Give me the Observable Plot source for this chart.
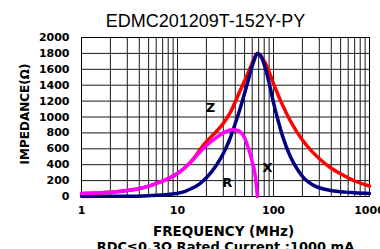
<!DOCTYPE html>
<html>
<head>
<meta charset="utf-8">
<script src="https://cdn.jsdelivr.net/npm/d3@7"></script>
<script src="https://cdn.jsdelivr.net/npm/@observablehq/plot@0.6"></script>
<style>
  html, body { margin: 0; padding: 0; background: #fff; overflow: hidden; }
</style>
</head>
<body>
<div id="chart"></div>
<script>
const title = "EDMC201209T-152Y-PY";
const xLabel = "FREQUENCY (MHz)";
const yLabel = "IMPEDANCE(Ω)";
const caption = "RDC≤0.3Ω Rated Current :1000 mA";

const xTicks = [1, 10, 100, 1000];
const yTicks = [0, 200, 400, 600, 800, 1000, 1200, 1400, 1600, 1800, 2000];
const xGrid = [1,2,3,4,5,6,7,8,9,10,20,30,40,50,60,70,80,90,100,200,300,400,500,600,700,800,900,1000];

// Z (red)
const zFreq = [1, 2, 3, 4, 5, 6, 8, 10, 12, 15, 17.4, 20, 26, 30, 35.6, 45, 52, 57.6, 63, 68, 75, 86, 100, 120, 150, 200, 250, 300, 400, 500, 700, 1000];
const zValues = [38, 52, 75, 100, 130, 165, 225, 290, 365, 490, 600, 690, 830, 920, 1060, 1333, 1500, 1626, 1740, 1800, 1760, 1626, 1420, 1190, 950, 710, 570, 475, 355, 285, 195, 132];

// navy curve
const rFreq = [1, 3, 5, 8, 10, 12, 14, 17, 20, 25, 30, 35, 40, 45, 52, 58, 63, 68, 75, 82, 90, 100, 112, 125, 150, 180, 210, 250, 300, 400, 550, 700, 1000];
const rValues = [3, 3, 10, 25, 40, 65, 100, 160, 235, 380, 540, 720, 920, 1110, 1370, 1580, 1720, 1800, 1750, 1620, 1430, 1180, 950, 750, 500, 330, 225, 155, 110, 75, 55, 46, 38];

// magenta curve
const xFreq = [1, 2, 3, 4, 5, 6, 8, 10, 12, 15, 17.4, 20, 26, 30, 37, 42, 45, 50, 55, 60, 65, 68];
const xValues = [38, 52, 75, 100, 130, 165, 225, 290, 365, 480, 570, 640, 750, 800, 840, 835, 815, 740, 600, 440, 240, 0];

const curveLabels = ["Z", "R", "X"];
const curveLabelFreq = [22, 33, 86.6];
const curveLabelValue = [1120, 176, 365];

const zData = zFreq.map((f, i) => ({f, v: zValues[i]}));
const rData = rFreq.map((f, i) => ({f, v: rValues[i]}));
const xData = xFreq.map((f, i) => ({f, v: xValues[i]}));
const labelData = curveLabels.map((t, i) => ({t, f: curveLabelFreq[i], v: curveLabelValue[i]}));

const chart = Plot.plot({
  width: 380,
  height: 249,
  marginLeft: 81,
  marginRight: 11,
  marginTop: 37,
  marginBottom: 53,
  style: {fontFamily: "DejaVu Sans", fontWeight: "bold", fontSize: "11px", background: "white", color: "black"},
  x: {type: "log", domain: [1, 1000], ticks: xTicks, tickFormat: d => String(d), tickSize: 0, tickPadding: 10, label: null},
  y: {domain: [0, 2000], ticks: yTicks, tickFormat: d => String(d), tickSize: 0, tickPadding: 12, label: null},
  marks: [
    Plot.ruleX(xGrid, {stroke: "#1a1a1a", strokeWidth: 1}),
    Plot.ruleY(yTicks, {stroke: "#1a1a1a", strokeWidth: 1}),
    Plot.frame({stroke: "black"}),
    Plot.line(zData, {x: "f", y: "v", stroke: "#ff0000", strokeWidth: 3.5, curve: "monotone-x"}),
    Plot.line(rData, {x: "f", y: "v", stroke: "#000080", strokeWidth: 3.5, curve: "monotone-x"}),
    Plot.line(xData, {x: "f", y: "v", stroke: "#ff00ff", strokeWidth: 3.5, curve: "monotone-x"}),
    Plot.text(labelData, {x: "f", y: "v", text: "t", fontSize: 13, fontWeight: "bold", fill: "black"}),
    Plot.text([title], {frameAnchor: "top", text: d => d, dx: -20, dy: -11, lineAnchor: "bottom", fontSize: 18, fontWeight: "normal", fontFamily: "Liberation Sans", fill: "black"}),
    Plot.text([xLabel], {frameAnchor: "bottom", text: d => d, dx: -2, dy: 39, lineAnchor: "bottom", fontSize: 13.5, fontWeight: "bold", fill: "black"}),
    Plot.text([caption], {frameAnchor: "bottom", text: d => d, dx: 0, dy: 54.5, lineAnchor: "bottom", fontSize: 13, fontWeight: "bold", fill: "black"}),
    Plot.text([yLabel], {frameAnchor: "left", textAnchor: "middle", text: d => d, dx: -56, dy: -3, rotate: -90, fontSize: 12, fontWeight: "bold", fill: "black"})
  ]
});
document.getElementById("chart").appendChild(chart);
</script>
</body>
</html>
